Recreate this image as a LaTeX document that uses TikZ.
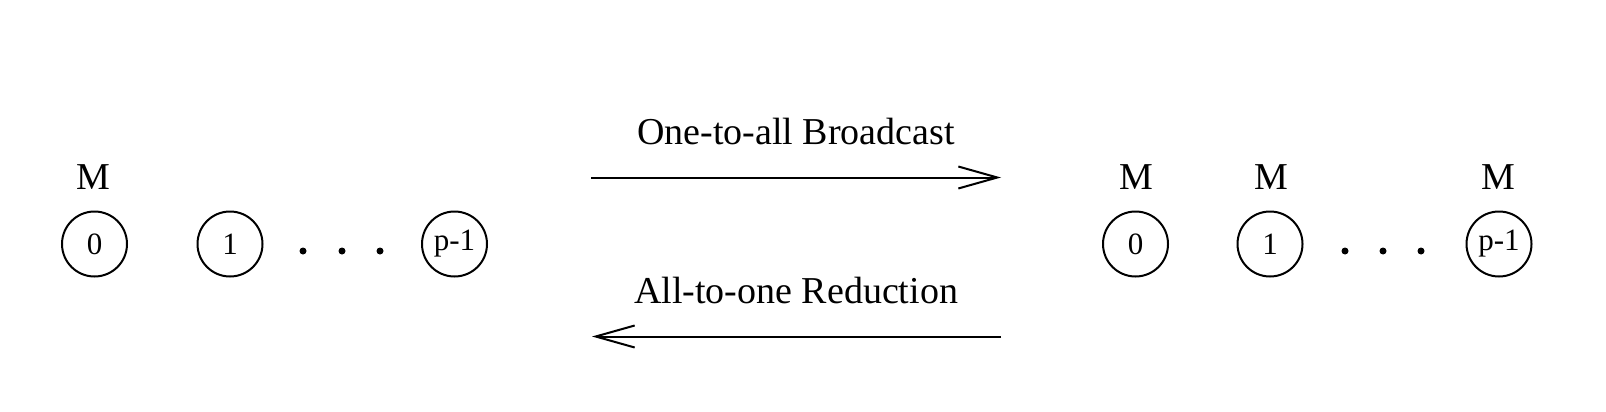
\documentclass[tikz,border=0pt]{standalone}
\usepackage{fontspec}
\setmainfont{Liberation Serif}
\usetikzlibrary{arrows.meta}
\begin{document}
\begin{tikzpicture}[x=1pt,y=-1pt,
  proc/.style={circle,draw,line width=2pt,minimum size=65pt,inner sep=0pt,font=\fontsize{31}{36}\selectfont},
  lbl/.style={inner sep=0pt,font=\fontsize{38}{45}\selectfont},
  dot/.style={circle,fill,inner sep=0pt,minimum size=7pt},
  arr/.style={line width=2pt,-{Straight Barb[length=39pt,width=22pt,line width=2pt]}}]
\useasboundingbox (0,0) rectangle (1606,412);
% left group
\node[proc] (l0) at (94.5,244) {0};
\node[proc] (l1) at (230,244) {1};
\node[proc] (lp) at (454.5,244) {p-1};
\node[lbl] (lm0) at (93,177) {M};
\node[dot] (ld1) at (303,251) {};
\node[dot] (ld2) at (342,251) {};
\node[dot] (ld3) at (380,251) {};
% right group
\node[proc] (r0) at (1135.5,244) {0};
\node[proc] (r1) at (1270,244) {1};
\node[proc] (rp) at (1499,244) {p-1};
\node[lbl] (rm0) at (1136,177) {M};
\node[lbl] (rm1) at (1271,177) {M};
\node[lbl] (rmp) at (1498,177) {M};
\node[dot] (rd1) at (1345,251) {};
\node[dot] (rd2) at (1383,251) {};
\node[dot] (rd3) at (1421,251) {};
% arrows
\coordinate (a1s) at (591,177.5);
\coordinate (a1e) at (1001,177.5);
\coordinate (a2s) at (1001,336.5);
\coordinate (a2e) at (592,336.5);
\draw[arr] (a1s) -- (a1e);
\draw[arr] (a2s) -- (a2e);
\node[lbl] (t1) at (796,132) {One-to-all Broadcast};
\node[lbl] (t2) at (796,290) {All-to-one Reduction};
\end{tikzpicture}
\end{document}
